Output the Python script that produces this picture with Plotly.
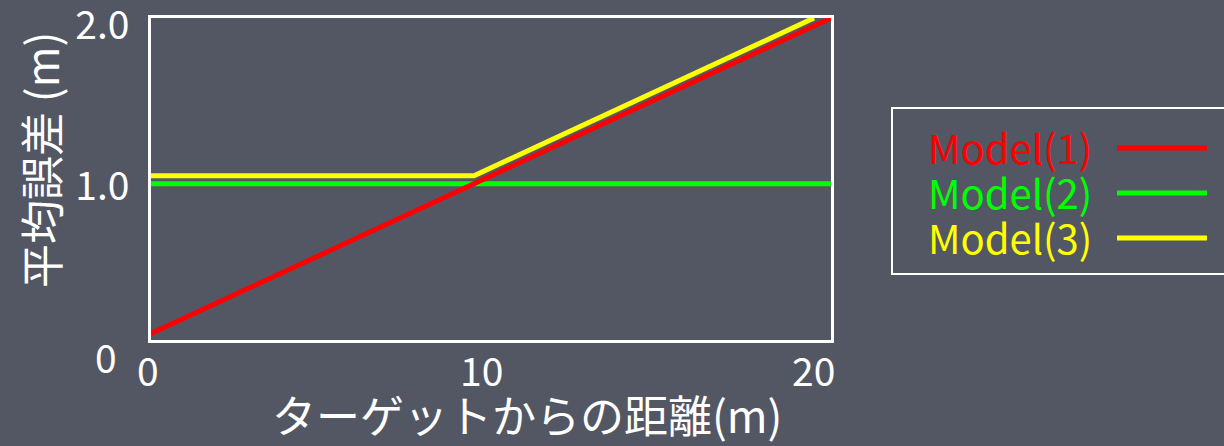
import plotly.graph_objects as go

# Distance from target (m) and mean error (m) for each model
model1_x = [0, 20]
model1_y = [0.04, 2.0]
model2_x = [0, 20]
model2_y = [0.97, 0.97]
model3_x = [0, 9.5, 19.5]
model3_y = [1.02, 1.02, 2.0]

series_names = ["Model(1)", "Model(2)", "Model(3)"]
series_colors = ["#ff0000", "#00ff00", "#ffff00"]

x_tick_vals = [0, 10, 20]
x_tick_text = ["0", "10", "20"]
y_tick_vals = [1, 2]
y_tick_text = ["1.0", "2.0"]

x_title = "ターゲットからの距離(m)"
y_title = "平均誤差 (m)"

W, H = 1224, 446
L, R, T, B = 151, 831, 18, 340
BG = "#535764"
FONT = "Noto Sans CJK JP"
TICK_SIZE = 39


def px_x(px):
    return (px - L) / (R - L)


def px_y(py):
    return (B - py) / (B - T)


def label(x, y, text, size, color="white", xanchor="center", angle=0):
    fig.add_annotation(x=px_x(x), y=px_y(y), xref="paper", yref="paper",
                       text=text, showarrow=False, xanchor=xanchor,
                       yanchor="middle", textangle=angle,
                       font=dict(family=FONT, size=size, color=color))


fig = go.Figure()
traces = []
for xs, ys, name, col in zip(
    [model1_x, model2_x, model3_x],
    [model1_y, model2_y, model3_y],
    series_names,
    series_colors,
):
    traces.append(go.Scatter(x=xs, y=ys, mode="lines", name=name,
                             line=dict(color=col, width=5), showlegend=False))

# yellow and green first so red is on top where they cross
for tr in (traces[2], traces[1], traces[0]):
    fig.add_trace(tr)

axis_common = dict(
    showgrid=False, zeroline=False, showline=True, mirror=True,
    linecolor="white", linewidth=2.5, ticks="", ticklabeloverflow="allow",
    automargin=False,
    tickfont=dict(family=FONT, size=TICK_SIZE, color="white"),
)

fig.update_layout(
    width=W, height=H,
    margin=dict(l=L, r=W - R, t=T, b=H - B),
    paper_bgcolor=BG, plot_bgcolor=BG,
    xaxis=dict(range=[0, 20.0001], tickvals=x_tick_vals, showticklabels=False,
               **axis_common),
    yaxis=dict(range=[0, 2.0001], tickvals=y_tick_vals, ticktext=y_tick_text,
               ticklabelstandoff=11, ticklabelshift=7, **axis_common),
)

# x tick labels, nudged left a little more toward the right end
x_label_shift = [-3, -10, -18]
for v, t, dx in zip(x_tick_vals, x_tick_text, x_label_shift):
    fig.add_annotation(x=v, y=0, xref="x", yref="y", text=t, showarrow=False,
                       xanchor="center", yanchor="middle", xshift=dx, yshift=-29,
                       font=dict(family=FONT, size=TICK_SIZE, color="white"))

# origin label of the y axis, set below-left of the corner
fig.add_annotation(x=0, y=0, xref="x", yref="y", text="0", showarrow=False,
                   xanchor="center", yanchor="middle", xshift=-45, yshift=-16,
                   font=dict(family=FONT, size=TICK_SIZE, color="white"))

# axis titles
label(527, 414, x_title, 44)
label(40, 160, y_title, 44, angle=-90)

# legend box with colored labels and line samples on the right
fig.add_shape(type="rect", xref="paper", yref="paper",
              x0=px_x(892), x1=px_x(1232), y0=px_y(108), y1=px_y(274),
              line=dict(color="white", width=2))
legend_rows = [147, 192, 237]
for name, col, row in zip(series_names, series_colors, legend_rows):
    label(926, row, name, 40, color=col, xanchor="left")
    fig.add_shape(type="line", xref="paper", yref="paper",
                  x0=px_x(1117), x1=px_x(1207), y0=px_y(row + 1), y1=px_y(row + 1),
                  line=dict(color=col, width=5))

fig.write_html("out.html")
